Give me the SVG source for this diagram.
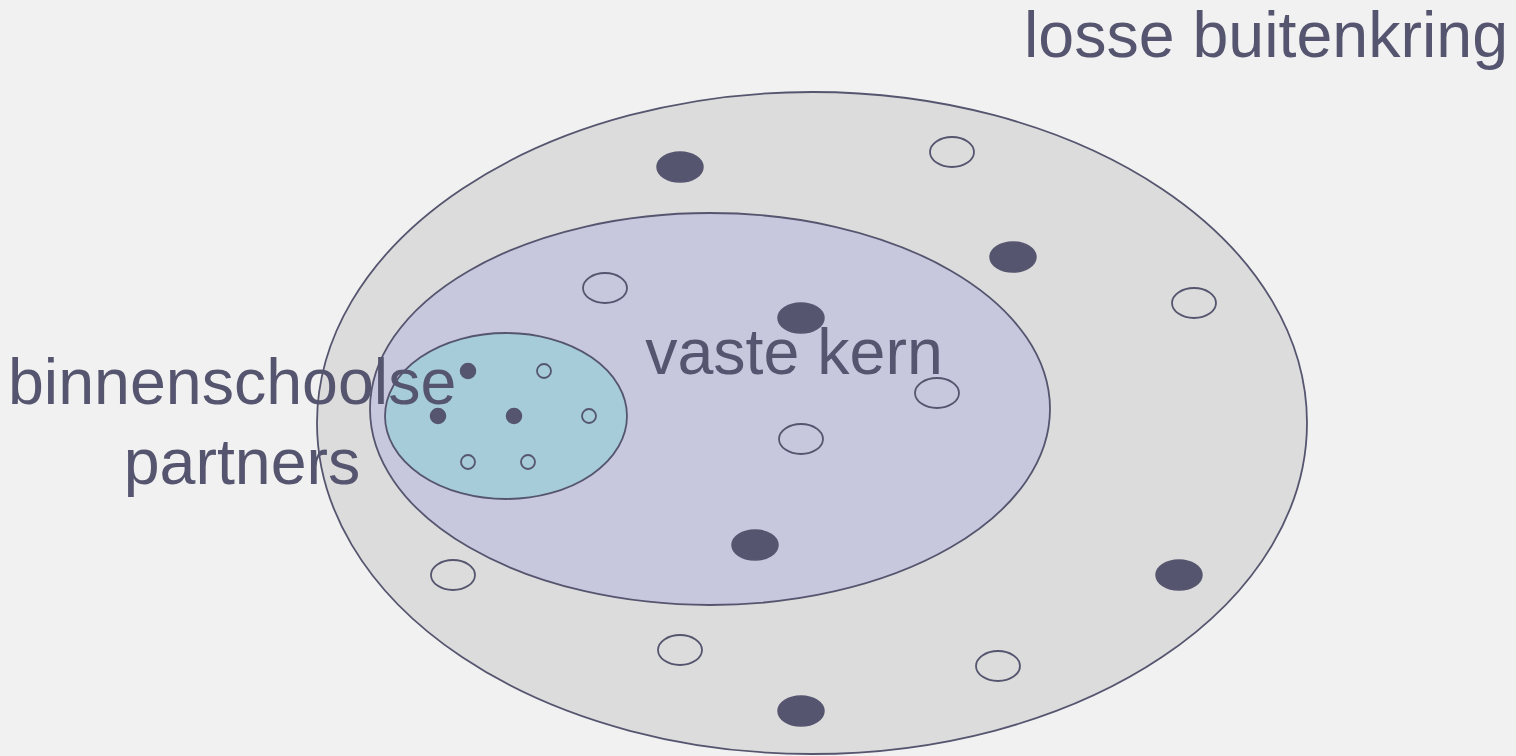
<svg xmlns="http://www.w3.org/2000/svg" width="1516" height="756" viewBox="0 0 1516 756">
<style>
.t{font-family:"Liberation Sans",Arial,sans-serif;font-size:64.5px;fill:#55556f}
.f{fill:#55556f;stroke:#55556f;stroke-width:1.5}
.o{fill:none;stroke:#55556f;stroke-width:1.8}
.e{stroke:#55556f;stroke-width:1.8}
</style>
<rect width="1516" height="756" fill="#f1f1f1"/>
<g id="outer"><ellipse class="e" cx="812" cy="423" rx="495" ry="331" fill="#dcdcdc"/></g>
<g id="outer-dots">
<ellipse class="f" cx="680" cy="167" rx="23" ry="15"/>
<ellipse class="f" cx="1013" cy="257" rx="23" ry="15"/>
<ellipse class="f" cx="1179" cy="575" rx="23" ry="15"/>
<ellipse class="f" cx="801" cy="711" rx="23" ry="15"/>
<ellipse class="o" cx="952" cy="152" rx="22" ry="15"/>
<ellipse class="o" cx="1194" cy="303" rx="22" ry="15"/>
<ellipse class="o" cx="453" cy="575" rx="22" ry="15"/>
<ellipse class="o" cx="680" cy="650" rx="22" ry="15"/>
<ellipse class="o" cx="998" cy="666" rx="22" ry="15"/>
</g>
<g id="middle"><ellipse class="e" cx="710" cy="409" rx="340" ry="196" fill="#c7c7de"/></g>
<g id="middle-dots">
<ellipse class="f" cx="801" cy="318" rx="23" ry="15"/>
<ellipse class="f" cx="755" cy="545" rx="23" ry="15"/>
<ellipse class="o" cx="605" cy="288" rx="22" ry="15"/>
<ellipse class="o" cx="937" cy="393" rx="22" ry="15"/>
<ellipse class="o" cx="801" cy="439" rx="22" ry="15"/>
</g>
<g id="inner"><ellipse class="e" cx="506" cy="416" rx="121" ry="83" fill="#a6cbd9"/></g>
<g id="inner-dots">
<circle class="f" cx="468" cy="371" r="7.5"/>
<circle class="f" cx="438" cy="416" r="7.5"/>
<circle class="f" cx="514" cy="416" r="7.5"/>
<circle class="o" cx="544" cy="371" r="7"/>
<circle class="o" cx="589" cy="416" r="7"/>
<circle class="o" cx="468" cy="462" r="7"/>
<circle class="o" cx="528" cy="462" r="7"/>
</g>
<g id="labels">
<text class="t" x="1024" y="57">losse buitenkring</text>
<text class="t" x="794" y="374" text-anchor="middle">vaste kern</text>
<text class="t" x="8" y="404">binnenschoolse</text>
<text class="t" x="242" y="484" text-anchor="middle">partners</text>
</g>
</svg>
